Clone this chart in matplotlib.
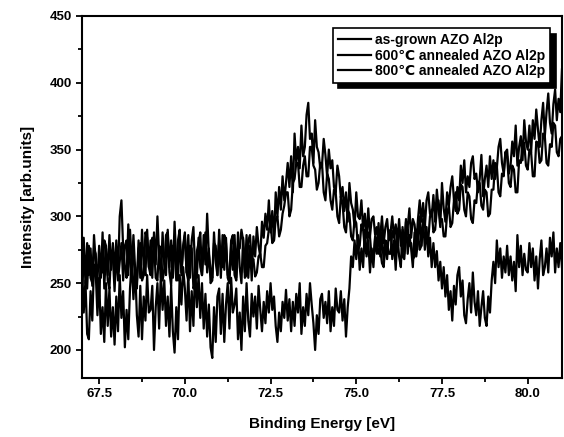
import numpy as np
import matplotlib
matplotlib.use('Agg')
import matplotlib.pyplot as plt
from matplotlib.ticker import MultipleLocator

plt.rcParams['font.family'] = ['Liberation Sans', 'DejaVu Sans']
plt.rcParams['font.weight'] = 'bold'

# Binding energy axis, 0.05 eV step (one row of values per eV below)
energy = np.linspace(67.0, 81.0, 281)

# as-grown AZO Al2p
as_grown = [
    262, 228, 252, 212, 208, 244, 222, 264, 258, 226, 254, 212, 232, 206, 250, 218, 246, 210, 232, 204,
    240, 214, 256, 224, 244, 202, 230, 208, 246, 266, 238, 262, 226, 210, 248, 208, 240, 222, 256, 228,
    230, 248, 200, 232, 250, 216, 258, 230, 252, 218, 240, 210, 248, 214, 198, 232, 208, 256, 234, 262,
    246, 222, 258, 214, 244, 218, 264, 232, 256, 224, 250, 216, 242, 210, 234, 202, 194, 232, 206, 240,
    246, 212, 242, 206, 234, 250, 216, 254, 228, 234, 246, 208, 228, 200, 240, 214, 250, 222, 210, 242,
    225, 240, 216, 248, 230, 214, 236, 220, 244, 228, 250, 230, 240, 218, 206, 228, 214, 236, 224, 245,
    222, 238, 214, 236, 218, 242, 228, 250, 212, 232, 218, 242, 226, 250, 234, 220, 200, 226, 212, 238,
    242, 224, 236, 220, 244, 214, 232, 218, 246, 230, 228, 244, 222, 238, 210, 232, 246, 270, 262, 282,
    268, 286, 260, 276, 262, 290, 270, 282, 258, 276, 262, 284, 272, 295, 270, 288, 265, 280, 268, 288,
    290, 268, 282, 260, 286, 270, 262, 292, 276, 298, 272, 286, 276, 262, 288, 270, 282, 300, 278, 298,
    275, 292, 270, 284, 262, 280, 262, 274, 252, 266, 246, 262, 240, 256, 230, 244, 222, 248, 234, 256,
    262, 240, 252, 226, 220, 238, 250, 228, 258, 236, 226, 244, 218, 232, 244, 224, 218, 240, 228, 252,
    266, 250, 282, 262, 276, 254, 270, 258, 278, 256, 270, 252, 266, 244, 286, 262, 278, 256, 272, 260,
    258, 280, 262, 276, 252, 270, 246, 268, 282, 256, 262, 276, 258, 284, 270, 288, 258, 276, 262, 280,
    262,
]

# 600C annealed AZO Al2p
ann_600 = [
    258, 284, 250, 280, 256, 276, 248, 286, 266, 252, 278, 254, 288, 246, 276, 256, 286, 260, 280, 258,
    282, 256, 300, 312, 276, 262, 254, 294, 266, 258, 286, 260, 250, 282, 254, 290, 264, 256, 290, 262,
    282, 254, 288, 264, 300, 270, 254, 288, 264, 256, 290, 262, 282, 254, 296, 266, 252, 286, 258, 278,
    288, 258, 286, 254, 282, 292, 260, 254, 284, 262, 256, 286, 264, 302, 272, 260, 254, 288, 266, 256,
    282, 254, 286, 260, 284, 254, 250, 278, 260, 286, 254, 288, 262, 250, 284, 258, 286, 254, 278, 252,
    285, 270, 292, 278, 270, 296, 284, 302, 290, 312, 288, 304, 282, 318, 300, 322, 305, 330, 312, 325,
    340, 322, 345, 318, 362, 340, 352, 336, 368, 345, 352, 376, 385, 358, 362, 340, 372, 352, 348, 336,
    338, 358, 346, 330, 350, 336, 342, 322, 318, 338, 330, 314, 322, 304, 318, 296, 325, 310, 305, 292,
    318, 300, 298, 312, 290, 302, 284, 306, 285, 298, 300, 286, 292, 278, 285, 300, 280, 292, 298, 282,
    288, 300, 284, 294, 282, 298, 278, 290, 272, 296, 292, 306, 284, 298, 294, 280, 298, 312, 296, 310,
    292, 312, 318, 302, 300, 316, 296, 320, 306, 292, 325, 306, 296, 318, 308, 322, 330, 312, 304, 322,
    312, 338, 325, 342, 318, 330, 322, 340, 345, 328, 332, 318, 328, 346, 315, 328, 338, 322, 345, 328,
    342, 328, 336, 352, 358, 340, 332, 348, 350, 332, 338, 356, 345, 368, 338, 352, 360, 342, 372, 356,
    350, 368, 348, 372, 358, 380, 365, 352, 372, 385, 360, 378, 392, 370, 362, 384, 395, 372, 388, 378,
    410,
]

# 800C annealed AZO Al2p
ann_800 = [
    244, 266, 270, 246, 278, 254, 250, 276, 272, 246, 240, 268, 258, 282, 278, 252, 246, 274, 270, 244,
    276, 252, 266, 280, 252, 278, 282, 256, 290, 266, 274, 250, 246, 276, 280, 252, 256, 288, 284, 262,
    256, 284, 280, 254, 252, 278, 276, 252, 260, 286, 288, 258, 248, 278, 274, 252, 282, 290, 256, 276,
    286, 258, 252, 278, 276, 246, 250, 274, 280, 288, 256, 276, 288, 258, 276, 250, 252, 280, 278, 256,
    290, 262, 262, 286, 280, 256, 256, 282, 286, 256, 252, 276, 276, 290, 282, 254, 256, 282, 286, 266,
    268, 255, 258, 270, 272, 262, 262, 278, 280, 290, 295, 280, 282, 298, 300, 285, 290, 302, 308, 318,
    318, 300, 305, 325, 328, 340, 340, 322, 322, 338, 345, 330, 330, 352, 352, 338, 335, 320, 325, 340,
    340, 318, 312, 332, 328, 312, 305, 320, 318, 300, 295, 315, 310, 292, 288, 305, 302, 285, 282, 298,
    295, 275, 278, 294, 290, 275, 272, 288, 285, 268, 268, 285, 282, 272, 275, 265, 262, 282, 280, 272,
    272, 288, 290, 274, 275, 290, 285, 270, 268, 286, 292, 278, 280, 268, 270, 290, 288, 275, 278, 294,
    295, 280, 282, 300, 305, 288, 290, 305, 312, 296, 298, 285, 285, 302, 308, 292, 295, 312, 318, 302,
    305, 324, 322, 305, 300, 318, 315, 298, 295, 312, 310, 326, 325, 308, 305, 320, 318, 300, 302, 320,
    320, 340, 338, 318, 315, 332, 330, 348, 345, 325, 322, 338, 335, 318, 318, 342, 340, 355, 355, 338,
    335, 350, 348, 330, 330, 356, 355, 340, 342, 362, 360, 340, 338, 354, 352, 370, 368, 348, 345, 358,
    360,
]

labels = ['as-grown AZO Al2p', '600\u2103 annealed AZO Al2p', '800\u2103 annealed AZO Al2p']

fig = plt.figure(figsize=(5.64, 4.37), dpi=100)
ax = fig.add_axes([0.1454, 0.135, 0.851, 0.8284])

for ys, lab in zip([as_grown, ann_600, ann_800], labels):
    ax.plot(energy, ys, color='black', linewidth=1.6, label=lab)

ax.set_xlim(67, 81)
ax.set_ylim(179, 450)
ax.xaxis.set_major_locator(MultipleLocator(2.5))
ax.xaxis.set_minor_locator(MultipleLocator(1.25))
ax.yaxis.set_major_locator(MultipleLocator(50))
ax.yaxis.set_minor_locator(MultipleLocator(25))
ax.tick_params(which='both', direction='out', width=1.3, labelsize=9.5)
ax.tick_params(which='major', length=4)
ax.tick_params(which='minor', length=3)
for lbl in ax.get_xticklabels() + ax.get_yticklabels():
    lbl.set_fontweight('bold')
for s in ax.spines.values():
    s.set_linewidth(1.5)

ax.set_xlabel('Binding Energy [eV]', fontsize=11, fontweight='bold', labelpad=12)
ax.set_ylabel('Intensity [arb.units]', fontsize=11, fontweight='bold', labelpad=10)

leg = ax.legend(loc='upper right', bbox_to_anchor=(0.99, 0.985), fancybox=False,
                shadow={'color': 'black', 'alpha': 1, 'ox': 4, 'oy': -4},
                edgecolor='black', fontsize=10, handlelength=2.4, borderpad=0.35,
                labelspacing=0.1, handletextpad=0.3, framealpha=1)
leg.get_frame().set_linewidth(1.2)
for t in leg.get_texts():
    t.set_fontweight('bold')

fig.savefig('out.png', dpi=100)
